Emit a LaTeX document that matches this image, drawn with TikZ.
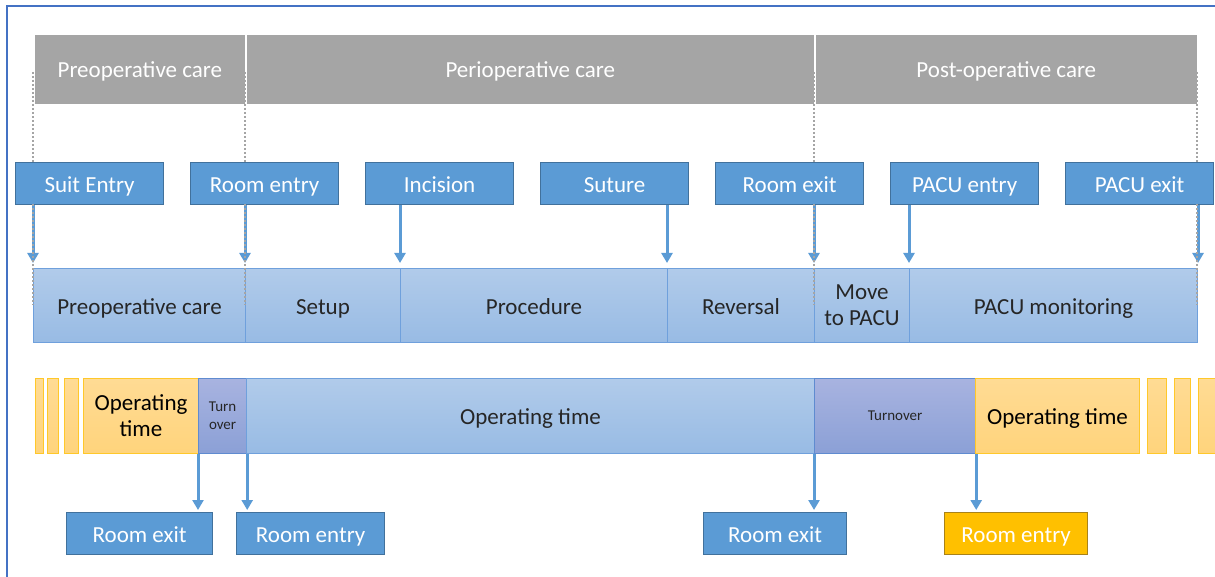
\documentclass[tikz,border=0pt]{standalone}
\usepackage{fontspec}
\setmainfont{Carlito}
\usetikzlibrary{arrows.meta}

\definecolor{frameBlue}{HTML}{4472C4}
\definecolor{careGrey}{HTML}{A5A5A5}
\definecolor{eventBlue}{HTML}{5B9BD5}
\definecolor{eventLine}{HTML}{41719C}
\definecolor{phaseTop}{HTML}{B1CBEA}
\definecolor{phaseBot}{HTML}{98BBE4}
\definecolor{phaseLine}{HTML}{6FA0DC}
\definecolor{opTop}{HTML}{FFDB94}
\definecolor{opBot}{HTML}{FFD47C}
\definecolor{opLine}{HTML}{FFC82A}
\definecolor{turnTop}{HTML}{A8B3E0}
\definecolor{turnBot}{HTML}{8BA0D6}
\definecolor{turnLine}{HTML}{5F8BD0}
\definecolor{entryYellow}{HTML}{FFC000}
\definecolor{entryLine}{HTML}{A8821A}
\definecolor{textDark}{HTML}{262626}

\tikzset{
  oneline/.style={text height=9.4pt, text depth=0.8pt},
  care/.style={fill=careGrey, draw=white, line width=0.8pt, text=white, oneline,
    anchor=north west, minimum height=35.5pt, inner sep=0pt},
  event/.style={fill=eventBlue, draw=eventLine, line width=0.6pt, text=white, oneline,
    anchor=north west, minimum width=74pt, minimum height=21pt, inner sep=0pt},
  phase/.style={top color=phaseTop, bottom color=phaseBot, draw=phaseLine,
    line width=0.5pt, text=textDark, anchor=north west, minimum height=37pt,
    inner sep=0pt, align=center},
  opfill/.style={top color=opTop, bottom color=opBot, draw=opLine, line width=0.5pt},
  optime/.style={opfill, text=black, anchor=north west, minimum height=37.5pt,
    inner sep=0pt, align=center},
  turnbox/.style={top color=turnTop, bottom color=turnBot, draw=turnLine,
    line width=0.6pt, text=textDark, anchor=north west, minimum height=37.5pt,
    inner sep=0pt, align=center,
    font=\fontsize{7.5}{9}\selectfont},
  arr/.style={draw=eventBlue, line width=1.5pt,
    -{Triangle[width=5.5pt,length=5pt]}},
  bound/.style={draw=careGrey, line width=1.2pt, dash pattern=on 1pt off 1pt}
}

\begin{document}
\begin{tikzpicture}[x=0.5pt, y=-0.5pt, font=\fontsize{11.5}{13}\selectfont]
\useasboundingbox (0,0) rectangle (1215,577);
% Frame
\draw[frameBlue, line width=1pt] (7,620) -- (7,6) -- (1240,6);
% Care periods
\node[care, minimum width=106pt] (preCare) at (33,33) {Preoperative care};
\node[care, minimum width=284.5pt] (periCare) at (245,33) {Perioperative care};
\node[care, minimum width=191.5pt] (postCare) at (814,33) {Post-operative care};
% Events
\node[event] (suit) at (15,162) {Suit Entry};
\node[event] (roomIn) at (190,162) {Room entry};
\node[event] (incision) at (365,162) {Incision};
\node[event] (suture) at (540,162) {Suture};
\node[event] (roomOut) at (715,162) {Room exit};
\node[event] (pacuIn) at (890,162) {PACU entry};
\node[event] (pacuOut) at (1065,162) {PACU exit};
% Phases
\node[phase, oneline, minimum width=106pt] (prePh) at (33,268) {Preoperative care};
\node[phase, oneline, minimum width=77.5pt] (setupPh) at (245,268) {Setup};
\node[phase, oneline, minimum width=133.5pt] (procPh) at (400,268) {Procedure};
\node[phase, oneline, minimum width=73.5pt] (revPh) at (667,268) {Reversal};
\node[phase, minimum width=47.5pt] (movePh) at (814,268) {Move\\to PACU};
\node[phase, oneline, minimum width=144pt] (pacuPh) at (909,268) {PACU monitoring};
% Room usage
\foreach \a/\b in {35/43, 47/58, 64/78, 1147/1166, 1174/1190, 1198/1230}
  \draw[opfill] (\a,378) rectangle (\b,453);
\node[optime, minimum width=57.5pt] (opA) at (83,378) {Operating\\time};
\node[turnbox, minimum width=24pt] (turnA) at (198,378) {Turn\\over};
\node[phase, oneline, minimum width=284pt, minimum height=37.5pt] (opB) at (246,378) {Operating time};
\node[turnbox, minimum width=80.5pt] (turnB) at (814,378) {Turnover};
\node[optime, oneline, minimum width=82pt] (opC) at (975,378) {Operating time};
% Room events
\node[event, minimum width=73pt] (exitA) at (66,512) {Room exit};
\node[event] (entryA) at (236,512) {Room entry};
\node[event, minimum width=71.5pt] (exitB) at (703,512) {Room exit};
\node[event, minimum width=71.5pt, fill=entryYellow, draw=entryLine] (entryB) at (944,512) {Room entry};
% Arrows to phases
\draw[arr, shorten >=2.5pt] (suit.south -| prePh.north west) -- (prePh.north west);
\draw[arr, shorten >=2.5pt] (roomIn.south -| setupPh.north west) -- (setupPh.north west);
\draw[arr, shorten >=2.5pt] (incision.south -| procPh.north west) -- (procPh.north west);
\draw[arr, shorten >=2.5pt] (suture.south -| revPh.north west) -- (revPh.north west);
\draw[arr, shorten >=2.5pt] (roomOut.south -| movePh.north west) -- (movePh.north west);
\draw[arr, shorten >=2.5pt] (pacuIn.south -| pacuPh.north west) -- (pacuPh.north west);
\draw[arr, shorten >=2.5pt] (pacuOut.south -| pacuPh.north east) -- (pacuPh.north east);
% Arrows to room events
\draw[arr, shorten >=1pt] (turnA.south west) -- (turnA.south west |- exitA.north);
\draw[arr, shorten >=1pt] (turnA.south east) -- (turnA.south east |- entryA.north);
\draw[arr, shorten >=1pt] (turnB.south west) -- (turnB.south west |- exitB.north);
\draw[arr, shorten >=1pt] (turnB.south east) -- (turnB.south east |- entryB.north);
% Period bounds
\foreach \x in {33, 245, 814, 1197} {
  \draw[bound] (\x,72) -- (\x,162);
  \draw[bound] (\x,204) -- (\x,305);
}
\end{tikzpicture}
\end{document}
